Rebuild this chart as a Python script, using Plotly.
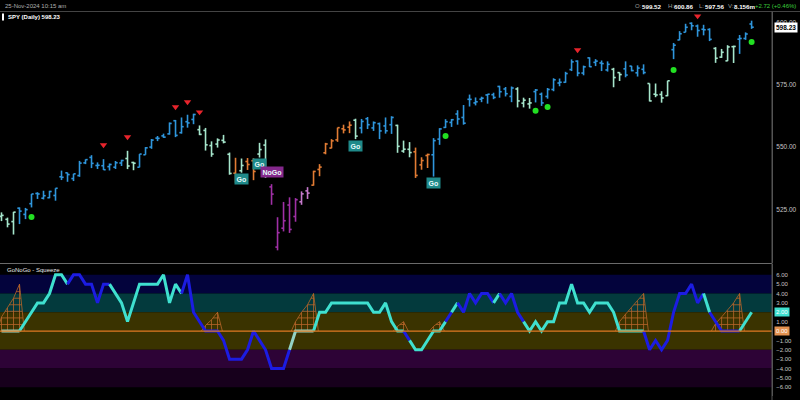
import plotly.graph_objects as go

# ---------------- DATA ----------------
opens = [522.2, 521.0, 520.1, 525.5, 523.0, 527.3, 531.4, 529.5, 529.7, 530.6,
         538.1, 539.7, 537.4, 538.6, 543.7, 545.9, 542.65, 542.55, 542.2, 541.95,
         543.65, 545.45, 543.85, 541.95, 546.95, 550.05, 553.65, 554.55, 555.35, 560.65,
         555.85, 560.25, 561.15, 557.05, 556.75, 550.65, 551.25, 552.75, 547.15, 539.55,
         540.55, 544.25, 544.55, 547.25, 550.85, 534.05, 509.85, 517.45, 526.75, 522.15,
         528.05, 532.45, 534.75, 541.05, 547.75, 549.65, 552.95, 557.4, 558.05, 560.85,
         557.75, 561.45, 557.75, 559.45, 558.55, 559.05, 558.75, 548.45, 549.15, 548.15,
         542.9, 546.65, 546.95, 553.25, 557.95, 559.95, 563.35, 561.95, 569.25, 567.8,
         569.3, 571.0, 571.1, 574.4, 573.4, 570.4, 573.4, 567.7, 567.4, 572.35,
         571.3, 570.4, 573.2, 575.8, 576.1, 581.2, 584.6, 579.8, 585.9, 584.1,
         583.85, 581.05, 581.3, 579.98, 581.5, 582.6, 579.9, 581.3, 575.6, 571.3,
         571.2, 570.7, 589.2, 593.1, 596.2, 599.8, 598.7, 597.4, 597.3, 589.7,
         586.2, 584.7, 590.4, 593.4, 593.7, 599.52]
highs = [523.8, 521.7, 524.0, 525.8, 525.6, 531.2, 531.9, 532.5, 532.5, 533.5,
         540.6, 539.8, 539.3, 544.5, 545.1, 546.8, 543.9, 545.2, 543.45, 544.45,
         544.95, 548.55, 544.15, 547.25, 550.05, 553.3, 554.5, 555.45, 559.95, 560.95,
         561.95, 563.05, 563.45, 558.75, 557.75, 552.35, 553.55, 554.95, 547.85, 545.75,
         545.45, 545.65, 545.55, 551.75, 553.15, 535.15, 521.85, 528.0, 529.85, 529.55,
         532.25, 533.95, 540.55, 543.2, 551.75, 553.25, 557.85, 559.05, 560.35, 561.45,
         561.35, 562.15, 560.35, 559.9, 561.95, 562.45, 559.05, 552.65, 552.05, 549.85,
         545.95, 547.4, 553.65, 557.65, 561.25, 561.35, 564.85, 566.95, 571.15, 570.0,
         570.3, 571.4, 571.9, 574.7, 574.2, 574.4, 574.1, 569.9, 569.8, 573.4,
         571.96, 573.8, 577.7, 577.6, 580.3, 585.3, 584.9, 582.8, 586.1, 585.4,
         584.85, 584.5, 581.9, 580.1, 584.5, 582.7, 582.9, 583.3, 575.6, 575.6,
         572.5, 576.7, 591.9, 596.65, 599.6, 600.17, 599.3, 599.2, 597.8, 590.2,
         589.5, 591.0, 590.8, 595.1, 596.15, 600.86]
lows = [520.3, 517.8, 514.9, 519.1, 521.1, 525.8, 529.2, 529.0, 529.5, 528.5,
        536.8, 536.1, 536.4, 538.1, 543.2, 541.6, 541.25, 540.85, 540.65, 541.25,
        542.45, 541.2, 540.75, 541.9, 546.95, 549.35, 552.45, 553.75, 555.05, 554.05,
        555.45, 557.85, 559.25, 554.85, 548.65, 546.15, 549.85, 551.55, 538.95, 535.7,
        539.75, 540.85, 536.75, 545.85, 537.65, 526.85, 508.55, 516.15, 515.55, 520.05,
        526.85, 529.2, 534.55, 538.35, 547.15, 549.55, 552.15, 555.55, 555.65, 553.25,
        555.55, 557.3, 556.55, 553.25, 555.45, 555.35, 547.75, 547.75, 545.95, 537.65,
        540.95, 541.65, 538.2, 550.95, 557.7, 558.15, 559.05, 559.05, 566.35, 566.8,
        568.1, 567.5, 569.3, 569.9, 570.4, 568.1, 566.0, 566.0, 565.5, 568.0,
        566.6, 569.5, 572.5, 574.5, 575.9, 580.6, 578.5, 578.9, 582.2, 582.6,
        580.6, 580.4, 574.1, 576.6, 578.1, 580.5, 578.4, 579.3, 568.4, 570.1,
        567.9, 570.5, 585.4, 593.0, 596.2, 597.0, 594.4, 594.96, 592.65, 583.9,
        585.9, 584.6, 583.85, 587.5, 593.15, 597.56]
closes = [522.6, 519.1, 523.9, 524.3, 524.9, 531.2, 531.2, 530.5, 532.2, 533.5,
          537.9, 539.0, 539.3, 543.6, 545.0, 543.5, 542.75, 540.95, 543.05, 543.75,
          544.65, 542.45, 543.55, 547.25, 549.75, 552.85, 553.55, 554.05, 559.55, 554.75,
          558.25, 559.75, 563.15, 555.15, 550.95, 547.25, 552.9, 552.05, 539.45, 536.65,
          542.65, 543.05, 540.25, 549.05, 541.25, 531.15, 515.65, 520.45, 516.95, 528.9,
          531.25, 531.55, 540.25, 542.0, 551.3, 552.55, 557.85, 556.95, 558.85, 554.45,
          560.35, 559.05, 559.85, 556.55, 556.6, 561.95, 550.35, 549.2, 547.85, 538.65,
          544.65, 547.05, 552.65, 557.35, 560.25, 561.05, 561.35, 559.65, 569.23, 568.25,
          569.7, 571.3, 570.0, 572.3, 571.5, 573.8, 568.6, 568.9, 567.8, 572.98,
          567.8, 573.2, 577.1, 576.1, 579.6, 584.3, 579.8, 582.3, 582.35, 584.6,
          583.6, 583.3, 578.0, 579.2, 579.0, 580.8, 581.8, 580.0, 568.6, 571.0,
          569.8, 576.7, 591.0, 595.6, 598.2, 598.8, 596.9, 597.2, 593.35, 585.75,
          588.15, 590.3, 590.5, 593.7, 595.5, 598.23]

# GoNoGo trend state of each bar: B strong Go, P weak Go, O amber, N NoGo, W weak NoGo
trend = list("PPP" "BBBBBBBBBBBBBBBBBB" "PP" "BBBBBBBBBB" "PPPPPP" "O" "P" "OO" "PP"
             "NNNNN" "WW" "OOOOOOO" "P" "BBBBBB" "PPP" "OOO" "BBBBBBBBBBBBBB" "PPP"
             "BBBBBBBBBBBBB" "PP" "BBBB" "PPPP" "BBBBBBB" "PPPP" "BBB")

# GoNoGo oscillator value per bar and the colour state of the segment ending at that bar
osc = [0, 0, 0, 0, 1, 2, 3, 3, 4, 6,
       6, 5, 6, 6, 5, 5, 3, 5, 5, 4,
       3, 1, 3, 5, 5, 5, 5, 6, 3, 5,
       4, 6, 2, 1, 0, 0, 0, -1, -3, -3,
       -3, -2, 0, -1, -2, -4, -4, -4, -2, 0,
       0, 0, 0, 2, 2, 3, 3, 3, 3, 3,
       3, 3, 2, 2, 3, 1, 0, 0, -1, -2,
       -2, -1, 0, 0, 1, 2, 3, 2, 4, 3,
       4, 4, 3, 4, 3, 4, 2, 1, 0, 1,
       0, 1, 1, 3, 3, 5, 3, 3, 2, 3,
       3, 3, 2, 0, 0, 0, 0, 0, -2, -1,
       -2, -1, 2, 4, 4, 5, 3, 4, 2, 1,
       0, 0, 0, 0, 1, 2]
osc_state = list("PPPP" "CCCCCCCC" "BBBBBBB" "CCCCCCCCCCCC" "BBBBBBBBBBBBBBBBBB" "PPPP"
                 "CCCCCCCCCCCCCCC" "B" "CCCCCC" "B" "C" "BBBBBB" "C" "BBBB"
                 "CCCCCCCCCCCCCCCCCCCC" "BBBBBBBBBB" "C" "BBBBB" "CC")

# Squeeze grid height per bar (bars not listed have no squeeze)
squeeze = {0: 1.5, 1: 2.5, 2: 3.5, 3: 5.0,
           34: 0.6, 35: 1.2, 36: 2.0,
           49: 1.0, 50: 2.0, 51: 2.8, 52: 4.0,
           66: 0.5, 67: 1.0,
           72: 0.5, 73: 1.0,
           103: 1.0, 104: 1.8, 105: 2.5, 106: 3.2, 107: 4.0,
           119: 0.8, 120: 1.5, 121: 2.2, 122: 3.0, 123: 4.0}

go_dot_idx = [5, 74, 89, 91, 112, 125]
go_dot_price = [521.9, 554.5, 564.7, 566.2, 581.0, 592.3]
warn_idx = [17, 21, 29, 31, 33, 96, 116]
warn_price = [550.9, 554.1, 566.2, 568.2, 564.1, 589.1, 602.7]
label_text = ["Go", "Go", "NoGo", "Go", "Go"]
label_idx = [40, 43, 45, 59, 72]
label_price = [537.2, 543.2, 540.0, 550.5, 535.6]

price_ticks = [525, 550, 575, 600]
osc_ticks = [-6, -5, -4, -3, -2, -1, 0, 1, 2, 3, 4, 5, 6]
osc_bands = [(4, 6), (2, 4), (-2, 2), (-4, -2), (-6, -4)]

header_date = "25-Nov-2024 10:15 am"
header_symbol = "SPY (Daily) 598.23"
quote_labels = ["O:", "H:", "L:", "V:"]
quote_values = ["599.52", "600.86", "597.56", "8.156m"]
quote_change = "+2.72 (+0.46%)"
last_price = 598.23
last_osc = 2.0
panel_title = "GoNoGo - Squeeze"

# ---------------- STYLE ----------------
W, H = 800, 400
FONT = "Liberation Sans, Arial, sans-serif"
trend_colors = {"B": "#2f96dc", "P": "#a6e6cc", "O": "#e27c34", "N": "#a030a6", "W": "#c67acc"}
osc_colors = {"C": "#3fe0cf", "B": "#1c1ce2", "P": "#93d2c4"}
band_colors = ["#03033c", "#033a3d", "#3a3300", "#2d0336", "#17001c"]


def px(x):
    return x / W


def py(y):
    return 1 - y / H


XR = [-0.25, 128.4]
PR = [503.46, 604.34]
OR = [-6.93, 7.15]

fig = go.Figure()

# ---- price bars, one trace per trend colour ----
for state, col in trend_colors.items():
    xs, ys = [], []
    for i, s in enumerate(trend):
        if s != state:
            continue
        xs += [i, i, None, i - 0.36, i, None, i, i + 0.36, None]
        ys += [lows[i], highs[i], None, opens[i], opens[i], None, closes[i], closes[i], None]
    fig.add_trace(go.Scatter(x=xs, y=ys, mode="lines", line=dict(color=col, width=1.6),
                             xaxis="x", yaxis="y", hoverinfo="skip", showlegend=False))

fig.add_trace(go.Scatter(x=go_dot_idx, y=go_dot_price, mode="markers",
                         marker=dict(symbol="circle", size=6, color="#22e022"),
                         xaxis="x", yaxis="y", hoverinfo="skip", showlegend=False))
fig.add_trace(go.Scatter(x=warn_idx, y=warn_price, mode="markers",
                         marker=dict(symbol="triangle-down", size=6.5, color="#e8242c"),
                         xaxis="x", yaxis="y", hoverinfo="skip", showlegend=False))

# ---- squeeze grids ----
sq_idx = sorted(squeeze)
runs = []
for i in sq_idx:
    if runs and i == runs[-1][-1] + 1:
        runs[-1].append(i)
    else:
        runs.append([i])
sq_col = "#b9662a"
for run in runs:
    outline = [(run[0] - 0.7, 0.0)] + [(i, squeeze[i]) for i in run] + [(run[-1] + 0.8, 0.0)]
    gx, gy = [], []
    gx += [p[0] for p in outline] + [None]
    gy += [p[1] for p in outline] + [None]
    for i in run:
        gx += [i, i, None]
        gy += [0, squeeze[i], None]
    top = max(squeeze[i] for i in run)
    lvl = 0.7
    while lvl < top:
        cross = []
        for (x0, y0), (x1, y1) in zip(outline[:-1], outline[1:]):
            if (y0 - lvl) * (y1 - lvl) <= 0 and y0 != y1:
                cross.append(x0 + (lvl - y0) * (x1 - x0) / (y1 - y0))
        if len(cross) >= 2:
            gx += [min(cross), max(cross), None]
            gy += [lvl, lvl, None]
        lvl += 0.7
    fig.add_trace(go.Scatter(x=gx, y=gy, mode="lines", line=dict(color=sq_col, width=0.8),
                             xaxis="x2", yaxis="y2", hoverinfo="skip", showlegend=False))

# ---- oscillator line in colour runs ----
seg_runs = []
for i in range(1, len(osc)):
    c = osc_state[i]
    if seg_runs and seg_runs[-1][0] == c and seg_runs[-1][1][-1] == i - 1:
        seg_runs[-1][1].append(i)
    else:
        seg_runs.append((c, [i - 1, i]))
for c, idxs in seg_runs:
    fig.add_trace(go.Scatter(x=idxs, y=[osc[k] for k in idxs], mode="lines",
                             line=dict(color=osc_colors[c], width=3),
                             xaxis="x2", yaxis="y2", hoverinfo="skip", showlegend=False))

# ---------------- LAYOUT ----------------
shapes = []
for (lo, hi), col in zip(osc_bands, band_colors):
    shapes.append(dict(type="rect", xref="paper", yref="y2", x0=0, x1=px(772), y0=lo, y1=hi,
                       fillcolor=col, line_width=0, layer="below"))
shapes.append(dict(type="line", xref="paper", yref="y2", x0=0, x1=px(772), y0=0, y1=0,
                   line=dict(color="#e07a22", width=1.2), layer="above"))
shapes.append(dict(type="line", xref="paper", yref="paper", x0=0, x1=1, y0=py(11.5), y1=py(11.5),
                   line=dict(color="#444444", width=1)))
shapes.append(dict(type="line", xref="paper", yref="paper", x0=0, x1=px(772), y0=py(263.5), y1=py(263.5),
                   line=dict(color="#6a6a6a", width=1.2)))
shapes.append(dict(type="line", xref="paper", yref="paper", x0=px(772), x1=px(772), y0=0, y1=py(11.5),
                   line=dict(color="#555555", width=1)))
shapes.append(dict(type="rect", xref="paper", yref="paper", x0=px(2), x1=px(4), y0=py(20.5), y1=py(13.5),
                   fillcolor="#ffffff", line_width=0))

ann = []
ann.append(dict(x=px(2.5), y=py(5.5), xref="paper", yref="paper", text=header_date, showarrow=False,
                xanchor="left", yanchor="middle", font=dict(family=FONT, size=6, color="#b0b0b0")))
ann.append(dict(x=px(5.5), y=py(17), xref="paper", yref="paper", text="<b>" + header_symbol + "</b>",
                showarrow=False, xanchor="left", yanchor="middle",
                font=dict(family=FONT, size=6, color="#ffffff")))
lab_x = [633, 666, 697, 726]
val_x = [640, 672, 703, 732]
for t, v, lx, vx in zip(quote_labels, quote_values, lab_x, val_x):
    ann.append(dict(x=px(lx), y=py(6), xref="paper", yref="paper", text=t, showarrow=False,
                    xanchor="left", yanchor="middle", font=dict(family=FONT, size=6, color="#9a9a9a")))
    ann.append(dict(x=px(vx), y=py(6), xref="paper", yref="paper", text="<b>" + v + "</b>", showarrow=False,
                    xanchor="left", yanchor="middle", font=dict(family=FONT, size=6.2, color="#ffffff")))
ann.append(dict(x=px(798), y=py(6), xref="paper", yref="paper", text=quote_change, showarrow=False,
                xanchor="right", yanchor="middle", font=dict(family=FONT, size=6, color="#3ccf3c")))
ann.append(dict(x=px(5), y=py(269.5), xref="paper", yref="paper", text=panel_title, showarrow=False,
                xanchor="left", yanchor="middle", font=dict(family=FONT, size=6, color="#e8e8e8")))

for t, i, p in zip(label_text, label_idx, label_price):
    bg = "#1f8a8a" if t == "Go" else "#84288c"
    ann.append(dict(x=i, y=p, xref="x", yref="y", text="<b>" + t + "</b>", showarrow=False,
                    xanchor="center", yanchor="middle", bgcolor=bg, borderpad=1.5,
                    font=dict(family=FONT, size=7, color="#e8fbfb")))

ann.append(dict(x=px(773.5), y=last_price, xref="paper", yref="y", text="<b>%.2f</b>" % last_price,
                showarrow=False, xanchor="left", yanchor="middle", bgcolor="#ffffff", borderpad=1,
                font=dict(family=FONT, size=6.5, color="#000000")))
ann.append(dict(x=px(773.5), y=last_osc, xref="paper", yref="y2", text="%.2f" % last_osc,
                showarrow=False, xanchor="left", yanchor="middle", bgcolor="#3fe0cf", borderpad=1,
                font=dict(family=FONT, size=6, color="#ffffff")))
ann.append(dict(x=px(773.5), y=0, xref="paper", yref="y2", text="%.2f" % 0,
                showarrow=False, xanchor="left", yanchor="middle", bgcolor="#e39150", borderpad=1,
                font=dict(family=FONT, size=6, color="#ffffff")))

axis_common = dict(showgrid=False, zeroline=False)
fig.update_layout(
    width=W, height=H, margin=dict(l=0, r=0, t=0, b=0),
    paper_bgcolor="#000000", plot_bgcolor="#000000",
    showlegend=False, shapes=shapes, annotations=ann,
    xaxis=dict(domain=[0, px(772)], range=XR, anchor="y", showticklabels=False, ticks="",
               **axis_common),
    yaxis=dict(domain=[py(263), py(12)], range=PR, anchor="x", side="right",
               tickvals=price_ticks, tickformat=".2f", ticks="", ticklabelstandoff=2,
               tickfont=dict(family=FONT, size=6.5, color="#c4c4c4"),
               showline=True, linecolor="#555555", linewidth=1, **axis_common),
    xaxis2=dict(domain=[0, px(772)], range=XR, anchor="y2", matches="x", showticklabels=False,
                ticks="", **axis_common),
    yaxis2=dict(domain=[py(396), py(264)], range=OR, anchor="x2", side="right",
                tickvals=osc_ticks, tickformat=".2f", ticks="", ticklabelstandoff=2,
                tickfont=dict(family=FONT, size=6, color="#c4c4c4"),
                showline=True, linecolor="#555555", linewidth=1, **axis_common),
)

fig.write_html("out.html", config={"displayModeBar": False},
               post_script="document.body.style.margin='0';document.body.style.overflow='hidden';"
                           "document.body.style.background='#000';")
